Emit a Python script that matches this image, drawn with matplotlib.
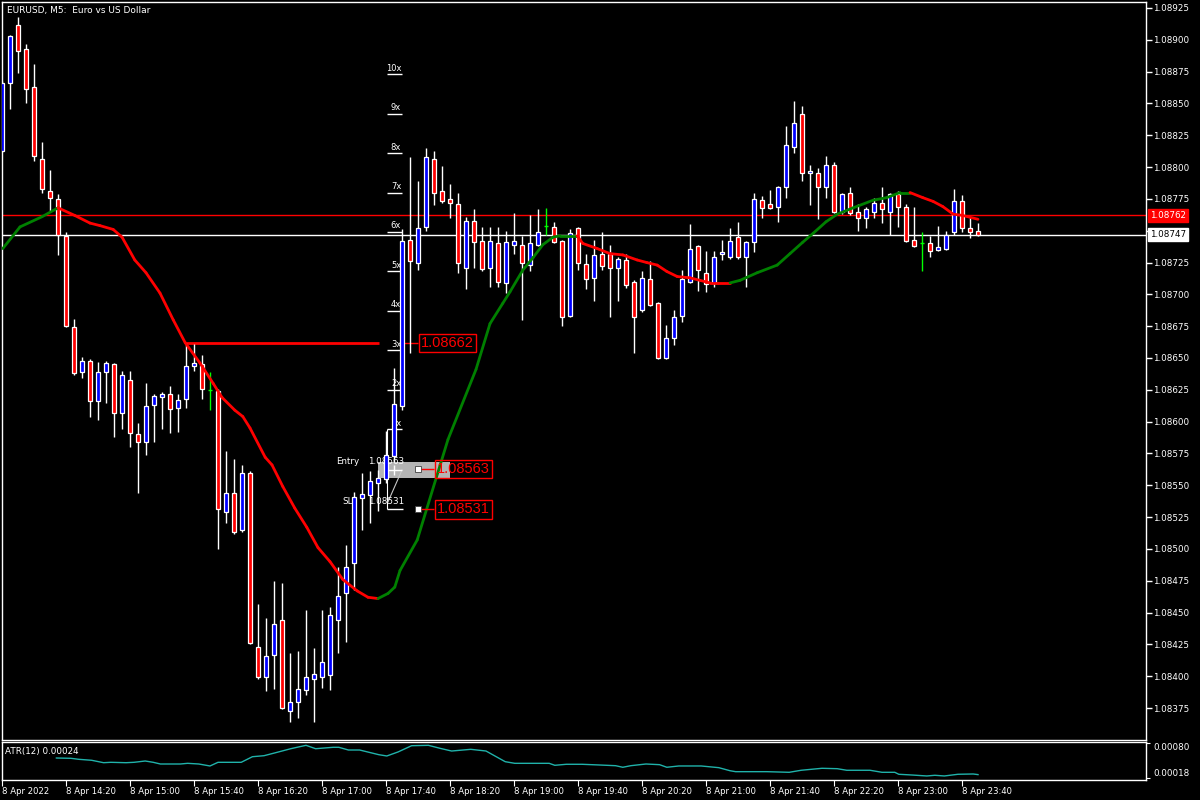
import numpy as np
import matplotlib
matplotlib.use("Agg")
import matplotlib.pyplot as plt
import matplotlib.transforms as mtransforms
from matplotlib.patches import Rectangle
from matplotlib.collections import LineCollection

plt.rcParams['font.family'] = ['DejaVu Sans']

# EURUSD M5, 8 Apr 2022 13:40 .. 23:50 (123 bars)
opens = [1.08813, 1.08866, 1.08912, 1.08893, 1.08863, 1.08806, 1.08781, 1.08775, 1.08746, 1.08674,
         1.08639, 1.08648, 1.08616, 1.08639, 1.08645, 1.08607, 1.08633, 1.08590, 1.08584, 1.08613,
         1.08619, 1.08622, 1.08611, 1.08618, 1.08644, 1.08645, 1.08625, 1.08624, 1.08529, 1.08544,
         1.08515, 1.08560, 1.08423, 1.08399, 1.08417, 1.08444, 1.08373, 1.08380, 1.08389, 1.08398,
         1.08399, 1.08401, 1.08444, 1.08465, 1.08489, 1.08540, 1.08542, 1.08552, 1.08555, 1.08573,
         1.08612, 1.08743, 1.08725, 1.08753, 1.08806, 1.08781, 1.08775, 1.08771, 1.08721, 1.08758,
         1.08742, 1.08721, 1.08740, 1.08709, 1.08739, 1.08739, 1.08723, 1.08739, 1.08754, 1.08753,
         1.08742, 1.08683, 1.08752, 1.08724, 1.08713, 1.08732, 1.08732, 1.08721, 1.08727, 1.08710,
         1.08688, 1.08712, 1.08693, 1.08650, 1.08666, 1.08683, 1.08710, 1.08738, 1.08717, 1.08709,
         1.08732, 1.08729, 1.08745, 1.08729, 1.08741, 1.08774, 1.08771, 1.08769, 1.08784, 1.08816,
         1.08842, 1.08795, 1.08795, 1.08784, 1.08802, 1.08765, 1.08780, 1.08765, 1.08760, 1.08765,
         1.08772, 1.08765, 1.08779, 1.08769, 1.08743, 1.08740, 1.08740, 1.08735, 1.08736, 1.08749,
         1.08773, 1.08752, 1.08750]
highs = [1.08868, 1.08904, 1.08918, 1.08897, 1.08881, 1.08820, 1.08798, 1.08779, 1.08749, 1.08681,
         1.08651, 1.08649, 1.08647, 1.08648, 1.08646, 1.08640, 1.08640, 1.08599, 1.08630, 1.08622,
         1.08623, 1.08628, 1.08622, 1.08662, 1.08661, 1.08652, 1.08639, 1.08626, 1.08577, 1.08571,
         1.08566, 1.08561, 1.08457, 1.08446, 1.08475, 1.08473, 1.08418, 1.08420, 1.08452, 1.08422,
         1.08452, 1.08454, 1.08486, 1.08503, 1.08545, 1.08560, 1.08561, 1.08562, 1.08593, 1.08642,
         1.08751, 1.08808, 1.08789, 1.08815, 1.08813, 1.08801, 1.08787, 1.08780, 1.08761, 1.08767,
         1.08753, 1.08753, 1.08753, 1.08750, 1.08764, 1.08746, 1.08762, 1.08767, 1.08768, 1.08757,
         1.08743, 1.08751, 1.08753, 1.08732, 1.08743, 1.08749, 1.08739, 1.08729, 1.08732, 1.08711,
         1.08718, 1.08726, 1.08694, 1.08676, 1.08688, 1.08719, 1.08755, 1.08739, 1.08734, 1.08734,
         1.08743, 1.08752, 1.08757, 1.08742, 1.08780, 1.08777, 1.08782, 1.08785, 1.08832, 1.08852,
         1.08848, 1.08802, 1.08799, 1.08809, 1.08804, 1.08780, 1.08784, 1.08771, 1.08769, 1.08776,
         1.08784, 1.08780, 1.08781, 1.08771, 1.08769, 1.08749, 1.08746, 1.08754, 1.08750, 1.08783,
         1.08778, 1.08761, 1.08756]
lows = [1.08812, 1.08846, 1.08874, 1.08850, 1.08805, 1.08780, 1.08765, 1.08731, 1.08674, 1.08637,
        1.08634, 1.08604, 1.08601, 1.08615, 1.08588, 1.08594, 1.08580, 1.08544, 1.08574, 1.08584,
        1.08594, 1.08591, 1.08592, 1.08611, 1.08640, 1.08618, 1.08609, 1.08500, 1.08520, 1.08512,
        1.08513, 1.08425, 1.08398, 1.08388, 1.08390, 1.08374, 1.08364, 1.08367, 1.08385, 1.08364,
        1.08391, 1.08389, 1.08418, 1.08427, 1.08468, 1.08515, 1.08520, 1.08530, 1.08552, 1.08568,
        1.08609, 1.08654, 1.08719, 1.08750, 1.08770, 1.08772, 1.08760, 1.08717, 1.08704, 1.08721,
        1.08718, 1.08706, 1.08706, 1.08701, 1.08732, 1.08680, 1.08718, 1.08738, 1.08747, 1.08740,
        1.08675, 1.08682, 1.08719, 1.08704, 1.08695, 1.08719, 1.08682, 1.08695, 1.08705, 1.08654,
        1.08686, 1.08691, 1.08649, 1.08649, 1.08660, 1.08678, 1.08709, 1.08703, 1.08702, 1.08706,
        1.08727, 1.08728, 1.08728, 1.08706, 1.08733, 1.08760, 1.08767, 1.08757, 1.08776, 1.08811,
        1.08789, 1.08770, 1.08759, 1.08776, 1.08764, 1.08763, 1.08762, 1.08750, 1.08752, 1.08760,
        1.08756, 1.08747, 1.08753, 1.08741, 1.08737, 1.08718, 1.08729, 1.08734, 1.08735, 1.08747,
        1.08749, 1.08744, 1.08746]
closes = [1.08866, 1.08903, 1.08891, 1.08861, 1.08809, 1.08783, 1.08776, 1.08747, 1.08675, 1.08638,
          1.08648, 1.08616, 1.08639, 1.08646, 1.08607, 1.08637, 1.08591, 1.08584, 1.08612, 1.08620,
          1.08622, 1.08610, 1.08617, 1.08644, 1.08646, 1.08626, 1.08625, 1.08531, 1.08544, 1.08513,
          1.08560, 1.08426, 1.08399, 1.08416, 1.08441, 1.08375, 1.08380, 1.08390, 1.08399, 1.08402,
          1.08411, 1.08448, 1.08463, 1.08486, 1.08541, 1.08543, 1.08553, 1.08556, 1.08574, 1.08614,
          1.08742, 1.08726, 1.08752, 1.08808, 1.08780, 1.08773, 1.08772, 1.08725, 1.08758, 1.08741,
          1.08720, 1.08742, 1.08710, 1.08741, 1.08742, 1.08725, 1.08740, 1.08749, 1.08754, 1.08741,
          1.08682, 1.08748, 1.08725, 1.08712, 1.08731, 1.08722, 1.08721, 1.08728, 1.08707, 1.08682,
          1.08713, 1.08692, 1.08650, 1.08666, 1.08682, 1.08712, 1.08736, 1.08719, 1.08708, 1.08729,
          1.08733, 1.08742, 1.08729, 1.08741, 1.08775, 1.08768, 1.08768, 1.08784, 1.08817, 1.08835,
          1.08795, 1.08797, 1.08784, 1.08802, 1.08765, 1.08779, 1.08764, 1.08760, 1.08767, 1.08772,
          1.08767, 1.08779, 1.08769, 1.08742, 1.08738, 1.08740, 1.08734, 1.08737, 1.08747, 1.08773,
          1.08752, 1.08749, 1.08747]

# moving average (read at bar positions)
ma_idx = [0.1, 2.25, 5, 7, 9.1, 11, 12.25, 13.9, 15, 16.6, 18, 19.75, 21.4, 22.9, 24.75, 26.4,
          27.5, 29.1, 30.1, 31, 32.9, 33.75, 35.1, 36.6, 38.1, 39.5, 41, 42.6, 44.4, 45.75, 47,
          48.25, 49.1, 49.75, 51.9, 55.75, 59.25, 61, 62.6, 63.5, 65.1, 66.4, 67.6, 68.9, 69.75,
          71.9, 72.6, 74.4, 76, 77.6, 79.4, 80.6, 81.9, 83.1, 84.4, 86, 87.25, 88.5, 89.5, 91,
          92.25, 94.4, 96.9, 98.5, 100.1, 101.4, 103, 104.4, 106.4, 108.9, 110.6, 112.25, 113.5,
          115.1, 116.4, 117.6, 118.9, 120.1, 122]
ma_val = [1.08736, 1.08753, 1.08761, 1.08768, 1.08762, 1.08756, 1.08754, 1.08751, 1.08745, 1.08727,
          1.08717, 1.08701, 1.08680, 1.08662, 1.08646, 1.08630, 1.08619, 1.08609, 1.08604, 1.08595,
          1.08572, 1.08566, 1.08549, 1.08532, 1.08517, 1.08501, 1.08490, 1.08476, 1.08467, 1.08462,
          1.08461, 1.08465, 1.08470, 1.08483, 1.08507, 1.08586, 1.08641, 1.08677, 1.08693, 1.08702,
          1.08719, 1.08729, 1.08739, 1.08745, 1.08746, 1.08746, 1.08740, 1.08736, 1.08732, 1.08731,
          1.08727, 1.08725, 1.08723, 1.08718, 1.08714, 1.08713, 1.08711, 1.08709, 1.08709, 1.08709,
          1.08711, 1.08717, 1.08723, 1.08732, 1.08741, 1.08748, 1.08757, 1.08763, 1.08768, 1.08774,
          1.08776, 1.08780, 1.08780, 1.08776, 1.08773, 1.08769, 1.08763, 1.08762, 1.08759]

# ATR(12)
atr_idx = [6.8, 8.6, 9.6, 11.2, 12.7, 13.6, 15.5, 16.5, 17.9, 18.9, 19.8, 22.3, 23.2, 24.6, 26,
           27, 29.9, 31.3, 32.75, 34.2, 36.1, 38, 39.2, 41.4, 42.1, 43.3, 44.7, 47.1, 48.1, 49.5,
           51.2, 53.3, 54.75, 56.2, 58.6, 60.5, 62.9, 64.1, 68.4, 69.1, 70.55, 72.5, 74.75, 76.7,
           77.6, 78.6, 80.5, 82.2, 83.1, 84.6, 87.4, 89.6, 91, 91.7, 95.6, 98.4, 99.9, 102.5,
           104.4, 105.6, 108.5, 110, 111.6, 112.1, 113.75, 115.6, 116.6, 117.8, 119.5, 121.4, 122]
atr_val = [0.000534, 0.000529, 0.000511, 0.000494, 0.000451, 0.000458, 0.000451, 0.000458, 0.000481,
           0.000458, 0.000428, 0.000428, 0.000440, 0.000428, 0.000393, 0.000458, 0.000458, 0.000557,
           0.000575, 0.000628, 0.000699, 0.000759, 0.000699, 0.000724, 0.000724, 0.000676, 0.000676,
           0.000593, 0.000570, 0.000641, 0.000752, 0.000759, 0.000706, 0.000658, 0.000688, 0.000658,
           0.000469, 0.000440, 0.000440, 0.000405, 0.000423, 0.000423, 0.000410, 0.000398, 0.000370,
           0.000398, 0.000428, 0.000416, 0.000370, 0.000393, 0.000393, 0.000363, 0.000309, 0.000292,
           0.000292, 0.000281, 0.000317, 0.000352, 0.000345, 0.000317, 0.000317, 0.000281, 0.000281,
           0.000246, 0.000233, 0.000216, 0.000228, 0.000216, 0.000246, 0.000251, 0.000240]

time_labels = ['8 Apr 2022', '8 Apr 14:20', '8 Apr 15:00', '8 Apr 15:40', '8 Apr 16:20',
               '8 Apr 17:00', '8 Apr 17:40', '8 Apr 18:20', '8 Apr 19:00', '8 Apr 19:40',
               '8 Apr 20:20', '8 Apr 21:00', '8 Apr 21:40', '8 Apr 22:20', '8 Apr 23:00',
               '8 Apr 23:40']
label_step = 8

price_ticks = np.arange(1.08375, 1.08926, 0.00025)
bid = 1.08747
alert_level = 1.08762
high_level = 1.08662
high_level_from = 23
entry = 1.08563
stop = 1.08531
r_levels = [1.08594, 1.08625, 1.08656, 1.08687, 1.08718, 1.08749, 1.08780, 1.08811, 1.08842, 1.08873]

BG = 'black'
FG = 'white'
BULL = '#0000ff'
BEAR = '#ff0000'
DOJI = '#00ff00'

W, H = 1200, 800
fig = plt.figure(figsize=(12, 8), dpi=100, facecolor=BG)
ax = fig.add_axes([2 / W, 1 - 740 / H, 1144 / W, 738 / H], facecolor=BG)
ax2 = fig.add_axes([2 / W, 1 - 780 / H, 1144 / W, 38 / H], facecolor=BG, sharex=ax)

ppx = 0.0055 / 700
ax.set_xlim(0, 143)
ax.set_ylim(1.08925 - 732 * ppx, 1.08925 + 6 * ppx)
apx = 0.00062 / 35
ax2.set_ylim(0.00080 - 37 * apx, 0.00080 + 1 * apx)

for a in (ax, ax2):
    for s in a.spines.values():
        s.set_color(FG)
        s.set_linewidth(1)

# candles
bw = 0.6
for i in range(len(opens)):
    o, h, l, c = opens[i], highs[i], lows[i], closes[i]
    if c == o:
        ax.vlines(i, l, h, color=DOJI, lw=1, zorder=3)
        ax.hlines(c, i - bw / 2, i + bw / 2, color=DOJI, lw=1, zorder=3)
        continue
    ax.vlines(i, l, h, color=FG, lw=1, zorder=3)
    col = BULL if c > o else BEAR
    ax.add_patch(Rectangle((i - bw / 2, min(o, c)), bw, abs(c - o), facecolor=col,
                           edgecolor=FG, lw=0.9, zorder=3.1))

# moving average coloured by direction
pts = np.column_stack([ma_idx, ma_val])
segs = np.stack([pts[:-1], pts[1:]], axis=1)
cols = []
cur = '#008000'
for k in range(len(ma_val) - 1):
    if ma_val[k + 1] > ma_val[k]:
        cur = '#008000'
    elif ma_val[k + 1] < ma_val[k]:
        cur = '#ff0000'
    cols.append(cur)
ax.add_collection(LineCollection(segs, colors=cols, linewidths=2, capstyle='round', zorder=4))

# horizontal levels
ax.axhline(alert_level, color='#ff0000', lw=1, zorder=1)
ax.axhline(bid, color=FG, lw=1, zorder=1)
ax.hlines(high_level, high_level_from, 47.1, color='#ff0000', lw=2, zorder=1)
ax.hlines(high_level, 49.75, 52, color='#ff0000', lw=1, zorder=1)

big = dict(family=['Liberation Sans', 'DejaVu Sans'], fontsize=10.5, color='#ff0000')
box = dict(boxstyle='square,pad=0.15', fc='none', ec='#ff0000', lw=1)
ax.text(52.4, high_level, '1.08662', ha='left', va='center', bbox=box, zorder=5, **big)

# R multiple ladder
for n, lv in enumerate(r_levels, start=1):
    ax.hlines(lv, 48.1, 50.0, color=FG, lw=1, zorder=1.5)
    ax.text(49.9, lv + 0.000012, f'{n}x', ha='right', va='bottom', color=FG, fontsize=6,
            zorder=1.5)
ax.vlines(48.1, stop, r_levels[0], color=FG, lw=0.8, zorder=1.5)
ax.hlines(stop, 48.1, 50.1, color=FG, lw=1, zorder=1.5)
ax.plot([50.0, 48.25], [entry - 0.00001, stop + 0.00006], color='#c8c8c8', lw=0.8, zorder=1.5)

# entry / stop tool
ax.add_patch(Rectangle((47, entry - 0.00007), 9, 0.00012, facecolor='#b4b4b4', edgecolor='none',
                       zorder=1.4))
ax.text(41.8, entry + 0.00006, 'Entry', ha='left', va='center', color=FG, fontsize=6.3, zorder=1.5)
ax.text(45.75, entry + 0.00006, '1.08563', ha='left', va='center', color=FG, fontsize=6.3, zorder=1.5)
ax.text(42.6, stop + 0.00006, 'SL', ha='left', va='center', color=FG, fontsize=6.3, zorder=1.5)
ax.text(45.75, stop + 0.00006, '1.08531', ha='left', va='center', color=FG, fontsize=6.3, zorder=1.5)
ax.hlines(entry - 0.00001, 48.25, 50.0, color=FG, lw=1, zorder=3.5)
ax.vlines(49.0, entry - 0.00005, entry + 0.00003, color=FG, lw=1, zorder=3.5)
for lv in (entry, stop):
    ax.hlines(lv, 52, 54, color='#ff0000', lw=1, zorder=4.5)
    ax.plot([52], [lv], marker='s', ms=5, mfc=FG, mec='#404040', mew=0.6, zorder=5)
    ax.text(54.4, lv, f'{lv:.5f}', ha='left', va='center', bbox=box, zorder=5, **big)

# price axis (the 1.08750 label sits under the bid box)
ax.yaxis.tick_right()
ax.set_yticks(price_ticks)
ax.set_yticklabels(['' if abs(v - 1.0875) < 1e-7 else f'{v:.5f}' for v in price_ticks])
ax.tick_params(axis='y', colors=FG, length=4, width=1, pad=1, labelsize=6.3, direction='out')
ax.tick_params(axis='x', bottom=False, labelbottom=False)
yt = mtransforms.blended_transform_factory(ax.transAxes, ax.transData)
ax.text(1.0035, alert_level, '1.08762', transform=yt, ha='left', va='center', color=FG,
        fontsize=6.3, clip_on=False, zorder=6,
        bbox=dict(boxstyle='square,pad=0.2', fc='#ff0000', ec='#ff0000'))
ax.text(1.0035, bid, '1.08747', transform=yt, ha='left', va='center', color='black',
        fontsize=6.3, clip_on=False, zorder=6,
        bbox=dict(boxstyle='square,pad=0.2', fc=FG, ec=FG))

# ATR panel
ax2.plot(atr_idx, atr_val, color='#20b2aa', lw=1)
ax2.yaxis.tick_right()
ax2.set_yticks([0.00018, 0.00080])
ax2.set_yticklabels(['0.00018', '0.00080'])
ax2.tick_params(axis='y', colors=FG, length=3, pad=2, labelsize=6.3)
tl = ax2.get_yticklabels()
tl[0].set_va('bottom')
tl[1].set_va('top')
ax2.set_xticks(np.arange(len(time_labels)) * label_step)
ax2.set_xticklabels(time_labels, ha='left')
ax2.tick_params(axis='x', colors=FG, length=4, pad=1, labelsize=6.1, direction='out')
ax2.text(0.003, 0.75, 'ATR(12) 0.00024', transform=ax2.transAxes, color=FG, fontsize=6.3,
         ha='left', va='center')

fig.text(7 / W, 1 - 10 / H, 'EURUSD, M5:  Euro vs US Dollar', color=FG, fontsize=6.5,
         ha='left', va='center')

fig.savefig('out.png', dpi=100, facecolor=BG)
